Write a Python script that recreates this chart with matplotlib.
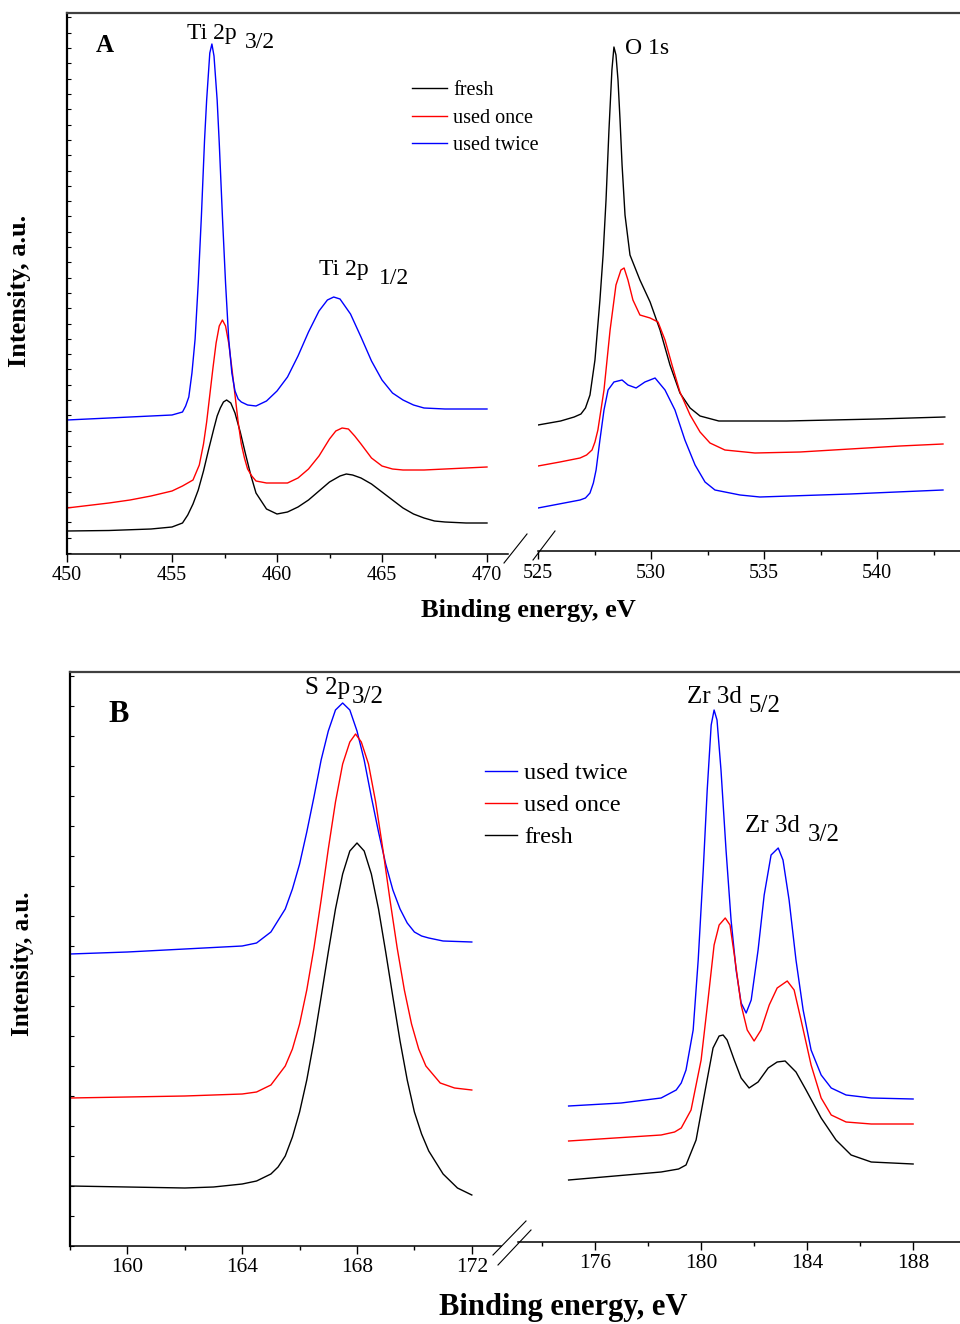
import matplotlib
matplotlib.use('Agg')
import matplotlib.pyplot as plt
from matplotlib.lines import Line2D
from matplotlib.ticker import MultipleLocator

plt.rcParams['font.family'] = ['Liberation Serif', 'DejaVu Serif']

# ---------------- data: panel A, Ti 2p region ----------------
ti_E_fresh = [450, 452, 454, 455, 455.5, 455.75, 456, 456.25, 456.5, 456.75, 457, 457.15, 457.3, 457.45,
              457.6, 457.8, 458, 458.25, 458.5, 458.75, 459, 459.5, 460, 460.5, 461, 461.5, 462,
              462.5, 463, 463.3, 463.6, 464, 464.5, 465, 465.5, 466, 466.5, 467, 467.5, 468, 469, 470]
ti_I_fresh = [22, 22.5, 24, 26, 30, 38, 49, 63, 82, 104, 125, 137, 145, 151,
              153, 150, 140, 121, 99, 78, 60, 44, 39, 41, 46, 53, 62,
              71, 77, 79, 78, 75, 69, 61, 53, 45, 39, 35, 32, 31, 30, 30]

ti_E_once = [450, 452, 453, 454, 455, 455.5, 456, 456.3, 456.5, 456.65, 456.8, 456.95, 457.1, 457.25,
             457.4, 457.55, 457.7, 457.85, 458, 458.15, 458.3, 458.45, 458.6, 458.8, 459, 459.5, 460,
             460.5, 461, 461.5, 462, 462.5, 462.8, 463.1, 463.4, 463.7, 464, 464.5, 465, 465.5, 466,
             467, 468, 469, 470]
ti_I_once = [45, 50, 53, 57, 62, 67, 73, 88, 109, 131, 158, 185, 210, 227,
             233, 227, 210, 185, 158, 131, 109, 95, 84, 77, 72, 70, 70,
             70, 75, 84, 97, 114, 122, 125, 124, 117, 109, 95, 87, 84, 83,
             83, 84, 85, 86]

ti_E_twice = [450, 452, 454, 455, 455.5, 455.65, 455.8, 455.95, 456.1, 456.25, 456.4, 456.55, 456.65,
              456.8, 456.9, 457.0, 457.15, 457.25, 457.4, 457.55, 457.7, 457.85, 458, 458.15, 458.3,
              458.6, 459, 459.5, 460, 460.5, 461, 461.5, 462, 462.4, 462.7, 463, 463.5, 464, 464.5,
              465, 465.5, 466, 466.5, 467, 468, 470]
ti_I_twice = [133, 135, 137, 138, 141, 147, 156, 180, 214, 270, 337, 413, 453,
              500, 509, 497, 453, 410, 337, 270, 214, 180, 162, 154, 151,
              148, 147, 152, 162, 176, 197, 221, 242, 253, 256, 254, 239, 216, 192,
              173, 160, 153, 148, 145, 144, 144]

# ---------------- data: panel A, O 1s region ----------------
o_E_fresh = [525, 526, 526.6, 526.9, 527.1, 527.3, 527.52, 527.74, 527.88, 528.01, 528.14, 528.27,
             528.36, 528.45, 528.54, 528.63, 528.72, 528.85, 529.07, 529.51, 529.96, 530.4, 530.84,
             531.28, 531.73, 532.17, 533, 534, 536, 538, 540, 543]
o_I_fresh = [128, 132, 136, 139, 145, 158, 193, 253, 298, 353, 423, 483,
             506, 498, 473, 433, 388, 338, 298, 273, 251, 223, 188,
             160, 145, 137, 132, 132, 132, 133, 134, 136]

o_E_once = [525, 525.97, 526.86, 527.15, 527.39, 527.52, 527.65, 527.92, 528.19, 528.45, 528.67,
            528.81, 528.98, 529.2, 529.51, 529.96, 530.31, 530.62, 530.93, 531.28, 531.73, 532.17,
            532.61, 533.27, 534.6, 536.59, 538.81, 541.02, 542.92]
o_I_once = [87, 91, 95, 98, 103, 111, 123, 163, 223, 268, 283,
            285, 273, 253, 238, 235, 231, 213, 188, 161, 138, 121,
            110, 103, 100, 101, 104, 107, 109]

o_E_twice = [525, 526.86, 527.1, 527.3, 527.45, 527.57, 527.74, 527.92, 528.1, 528.36, 528.72,
             528.98, 529.34, 529.73, 530.18, 530.62, 531.06, 531.5, 531.95, 532.39, 532.83,
             533.94, 534.82, 538.81, 542.92]
o_I_twice = [45, 53, 55, 60, 70, 83, 113, 143, 163, 171, 173,
             168, 165, 171, 175, 163, 143, 113, 88, 71, 63,
             58, 56, 59, 63]

# ---------------- data: panel B, S 2p region ----------------
s_E_twice = [158, 160, 162, 164, 164.5, 165, 165.5, 165.75, 166, 166.25, 166.5, 166.75, 167, 167.25,
             167.5, 167.75, 168, 168.25, 168.5, 168.75, 169, 169.25, 169.5, 169.75, 170, 170.25,
             170.5, 171, 172]
s_I_twice = [292, 294, 297, 300, 303, 314, 337, 357, 382, 414, 449, 486, 515, 536,
             543, 536, 515, 486, 449, 414, 382, 356, 337, 323, 314, 310,
             308, 305, 304]

s_E_once = [158, 160, 162, 164, 164.5, 165, 165.5, 165.75, 166, 166.25, 166.5, 166.75, 167, 167.25,
            167.5, 167.75, 167.95, 168.15, 168.4, 168.65, 168.9, 169.15, 169.4, 169.65, 169.9,
            170.15, 170.4, 170.9, 171.4, 172]
s_I_once = [148, 149, 150, 152, 154, 161, 180, 197, 222, 256, 298, 346, 397, 444,
            482, 504, 512, 504, 482, 444, 397, 346, 298, 256, 222,
            197, 180, 163, 158, 156]

s_E_fresh = [158, 160, 162, 163, 164, 164.5, 165, 165.25, 165.5, 165.75, 166, 166.25, 166.5, 166.75,
             167, 167.25, 167.5, 167.75, 168, 168.25, 168.5, 168.75, 169, 169.25, 169.5, 169.75,
             170, 170.25, 170.5, 171, 171.5, 172]
s_I_fresh = [60, 59, 58, 59, 62, 65, 72, 79, 90, 109, 134, 166, 205, 249,
             294, 337, 372, 395, 403, 395, 372, 337, 294, 249, 205, 166,
             134, 112, 95, 72, 58, 51]

# ---------------- data: panel B, Zr 3d region ----------------
zr_E_twice = [175.0, 176.98, 178.49, 179.06, 179.25, 179.43, 179.70, 179.89, 180.08, 180.23, 180.38,
              180.49, 180.60, 180.75, 180.94, 181.13, 181.32, 181.51, 181.70, 181.89, 182.15,
              182.38, 182.64, 182.91, 183.09, 183.32, 183.58, 183.85, 184.15, 184.53, 184.91,
              185.47, 186.42, 188.0]
zr_I_twice = [140, 143, 148, 156, 163, 176, 216, 286, 376, 456, 521,
              536, 526, 476, 396, 326, 276, 243, 233, 246, 296,
              351, 391, 398, 386, 346, 286, 236, 196, 171, 158,
              151, 148, 147]

zr_E_once = [175.0, 178.49, 179.0, 179.25, 179.62, 180.0, 180.26, 180.49, 180.68, 180.91, 181.09,
             181.28, 181.51, 181.74, 182.0, 182.26, 182.57, 182.87, 183.25, 183.51, 183.77, 184.15,
             184.53, 184.91, 185.47, 186.42, 188.0]
zr_I_once = [105, 111, 114, 118, 136, 186, 246, 301, 321, 328, 321,
             286, 241, 216, 205, 216, 241, 258, 265, 256, 226, 181,
             148, 131, 124, 122, 122]

zr_E_fresh = [175.0, 178.49, 179.15, 179.43, 179.81, 180.19, 180.45, 180.68, 180.83, 180.98, 181.25,
              181.51, 181.81, 182.15, 182.53, 182.87, 183.17, 183.58, 183.96, 184.53, 185.09,
              185.66, 186.42, 188.0]
zr_I_fresh = [66, 74, 77, 81, 106, 161, 198, 210, 211, 206, 186,
              168, 158, 164, 178, 184, 185, 174, 156, 128, 106,
              91, 84, 82]

labels_A = ['fresh', 'used once', 'used twice']
labels_B = ['used twice', 'used once', 'fresh']

# ---------------- layout helpers ----------------
W, H = 960, 1324
fig = plt.figure(figsize=(9.6, 13.24), dpi=100)


def box(x0, y0, x1, y1):
    return [x0 / W, 1 - y1 / H, (x1 - x0) / W, (y1 - y0) / H]


def fx(x):
    return x / W


def fy(y):
    return 1 - y / H


LW = 1.0
TICK_A = 14.5
TICK_B = 15.5


def style(ax, left, major, minor, ysp, tsize):
    for s in ['top', 'right']:
        ax.spines[s].set_visible(False)
    ax.spines['bottom'].set_linewidth(1.1)
    ax.xaxis.set_major_locator(MultipleLocator(major))
    ax.xaxis.set_minor_locator(MultipleLocator(minor))
    ax.tick_params(axis='x', which='major', direction='out', length=6, width=1.0,
                   labelsize=tsize, pad=3)
    ax.tick_params(axis='x', which='minor', direction='out', length=3, width=1.0)
    if left:
        ax.spines['left'].set_linewidth(1.6)
        ax.yaxis.set_major_locator(MultipleLocator(ysp))
        ax.tick_params(axis='y', which='major', direction='in', length=3, width=0.8,
                       labelleft=False)
        ax.tick_params(axis='y', which='minor', left=False)
    else:
        ax.spines['left'].set_visible(False)
        ax.tick_params(axis='y', which='both', left=False, labelleft=False)
    ax.set_facecolor('none')


# ---------------- panel A ----------------
axAL = fig.add_axes(box(67, 13, 508, 554))
axAL.set_xlim(450, 450 + 441 / 21)
axAL.set_ylim(-1, 540)
hA = []
hA += axAL.plot(ti_E_fresh, ti_I_fresh, color='black', lw=LW)
hA += axAL.plot(ti_E_once, ti_I_once, color='red', lw=LW)
hA += axAL.plot(ti_E_twice, ti_I_twice, color='blue', lw=LW)
style(axAL, True, 5, 2.5, 15.3, TICK_A)

axAR = fig.add_axes(box(538, 13, 962, 551))
axAR.set_xlim(525, 525 + 424 / 22.6)
axAR.set_ylim(2, 540)
axAR.plot(o_E_fresh, o_I_fresh, color='black', lw=LW)
axAR.plot(o_E_once, o_I_once, color='red', lw=LW)
axAR.plot(o_E_twice, o_I_twice, color='blue', lw=LW)
style(axAR, False, 5, 2.5, 15.3, TICK_A)

# ---------------- panel B ----------------
axBL = fig.add_axes(box(70, 672, 501, 1246))
axBL.set_xlim(158, 158 + 431 / 28.7)
axBL.set_ylim(0, 574)
hB = []
hB += axBL.plot(s_E_twice, s_I_twice, color='blue', lw=LW)
hB += axBL.plot(s_E_once, s_I_once, color='red', lw=LW)
hB += axBL.plot(s_E_fresh, s_I_fresh, color='black', lw=LW)
style(axBL, True, 4, 2, 30, TICK_B)

axBR = fig.add_axes(box(518, 672, 962, 1242))
axBR.set_xlim(173.09, 173.09 + 444 / 26.5)
axBR.set_ylim(4, 574)
axBR.plot(zr_E_twice, zr_I_twice, color='blue', lw=LW)
axBR.plot(zr_E_once, zr_I_once, color='red', lw=LW)
axBR.plot(zr_E_fresh, zr_I_fresh, color='black', lw=LW)
style(axBR, False, 4, 2, 30, TICK_B)

# ---------------- frame top lines and axis breaks ----------------
for (x0, x1, y) in [(67, 960, 13), (70, 960, 672)]:
    fig.add_artist(Line2D([fx(x0), fx(x1)], [fy(y), fy(y)], color='#404040', lw=1.6))

for (x0, y0, x1, y1) in [(504, 563, 527, 534), (533, 560, 555, 531),
                         (493, 1255, 526, 1221), (498, 1265, 531, 1230)]:
    fig.add_artist(Line2D([fx(x0), fx(x1)], [fy(y0), fy(y1)], color='black', lw=0.8))

# ---------------- annotations ----------------
def t(x, y, s, size, **kw):
    fig.text(fx(x), fy(y), s, fontsize=size, ha='left', va='center', **kw)

t(96, 45, 'A', 18, weight='bold')
t(187, 33, 'Ti 2p', 17)
t(245, 42, '3/2', 17)
t(319, 270, 'Ti 2p', 17)
t(379, 279, '1/2', 17)
t(625, 48, 'O 1s', 17)

t(108, 714, 'B', 22, weight='bold')
t(305, 688, 'S 2p', 18)
t(352, 697, '3/2', 18)
t(687, 697, 'Zr 3d', 18)
t(749, 706, '5/2', 18)
t(745, 826, 'Zr 3d', 18)
t(808, 835, '3/2', 18)

fig.text(fx(528), fy(610), 'Binding energy, eV', fontsize=19, weight='bold', ha='center', va='center')
fig.text(fx(563), fy(1308), 'Binding energy, eV', fontsize=22, weight='bold', ha='center', va='center')
fig.text(fx(20), fy(291), 'Intensity, a.u.', fontsize=19, weight='bold', ha='center', va='center',
         rotation=90)
fig.text(fx(22), fy(964), 'Intensity, a.u.', fontsize=18, weight='bold', ha='center', va='center',
         rotation=90)

# ---------------- legends ----------------
fig.legend(hA, labels_A, loc='upper left', bbox_to_anchor=(fx(412), fy(81)), frameon=False,
           fontsize=14.5, handlelength=1.75, handletextpad=0.3, labelspacing=0.42,
           borderpad=0, borderaxespad=0)
fig.legend(hB, labels_B, loc='upper left', bbox_to_anchor=(fx(485), fy(762)), frameon=False,
           fontsize=17.5, handlelength=1.3, handletextpad=0.3, labelspacing=0.42,
           borderpad=0, borderaxespad=0)

fig.savefig('out.png', dpi=100)
